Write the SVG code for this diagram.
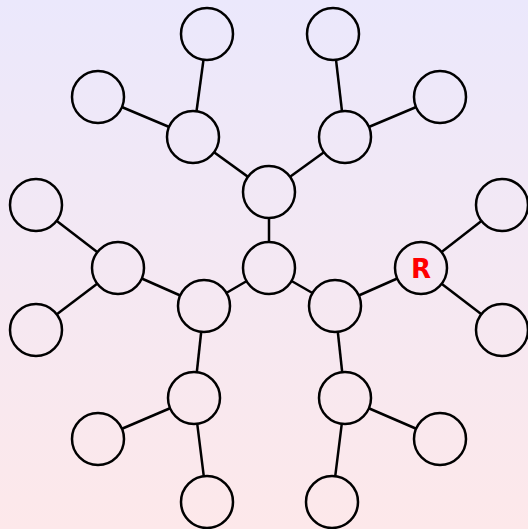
<svg xmlns="http://www.w3.org/2000/svg" width="528" height="529" viewBox="0 0 528 529">
<defs>
<linearGradient id="bg" gradientUnits="userSpaceOnUse" x1="0" y1="0" x2="0" y2="529">
<stop offset="0" stop-color="#ebe8fc"/>
<stop offset="1" stop-color="#fde8ea"/>
</linearGradient>
</defs>
<style>
.e{stroke:#000;stroke-width:2.5;fill:none}
.n{fill:url(#bg);stroke:#000;stroke-width:2.5}
.t{font-family:"DejaVu Sans",sans-serif;font-weight:bold;font-size:26px;fill:#ff0000;text-anchor:middle}
</style>
<rect width="528" height="529" fill="url(#bg)"/>
<g id="connectors">
<line class="e" x1="269" y1="268" x2="269" y2="192"/>
<line class="e" x1="269" y1="192" x2="193" y2="137"/>
<line class="e" x1="269" y1="192" x2="345" y2="137"/>
<line class="e" x1="193" y1="137" x2="207" y2="34"/>
<line class="e" x1="193" y1="137" x2="98" y2="97"/>
<line class="e" x1="345" y1="137" x2="333" y2="34"/>
<line class="e" x1="345" y1="137" x2="440" y2="97"/>
<line class="e" x1="269" y1="268" x2="204" y2="306"/>
<line class="e" x1="269" y1="268" x2="335" y2="306"/>
<line class="e" x1="204" y1="306" x2="118" y2="268"/>
<line class="e" x1="204" y1="306" x2="194" y2="398"/>
<line class="e" x1="118" y1="268" x2="36" y2="205"/>
<line class="e" x1="118" y1="268" x2="36" y2="330"/>
<line class="e" x1="194" y1="398" x2="98" y2="439"/>
<line class="e" x1="194" y1="398" x2="207" y2="502"/>
<line class="e" x1="335" y1="306" x2="421" y2="268"/>
<line class="e" x1="335" y1="306" x2="345" y2="398"/>
<line class="e" x1="421" y1="268" x2="502" y2="205"/>
<line class="e" x1="421" y1="268" x2="502" y2="330"/>
<line class="e" x1="345" y1="398" x2="440" y2="439"/>
<line class="e" x1="345" y1="398" x2="332" y2="502"/>
</g>
<g id="n1"><circle class="n" cx="269" cy="268" r="26"/></g>
<g id="n2"><circle class="n" cx="269" cy="192" r="26"/></g>
<g id="n3"><circle class="n" cx="193" cy="137" r="26"/></g>
<g id="n4"><circle class="n" cx="345" cy="137" r="26"/></g>
<g id="n5"><circle class="n" cx="207" cy="34" r="26"/></g>
<g id="n6"><circle class="n" cx="98" cy="97" r="26"/></g>
<g id="n7"><circle class="n" cx="333" cy="34" r="26"/></g>
<g id="n8"><circle class="n" cx="440" cy="97" r="26"/></g>
<g id="n9"><circle class="n" cx="204" cy="306" r="26"/></g>
<g id="n10"><circle class="n" cx="335" cy="306" r="26"/></g>
<g id="n11"><circle class="n" cx="118" cy="268" r="26"/></g>
<g id="n12"><circle class="n" cx="194" cy="398" r="26"/></g>
<g id="n13"><circle class="n" cx="36" cy="205" r="26"/></g>
<g id="n14"><circle class="n" cx="36" cy="330" r="26"/></g>
<g id="n15"><circle class="n" cx="98" cy="439" r="26"/></g>
<g id="n16"><circle class="n" cx="207" cy="502" r="26"/></g>
<g id="nR"><circle class="n" cx="421" cy="268" r="26"/><text class="t" x="421" y="278">R</text></g>
<g id="n18"><circle class="n" cx="345" cy="398" r="26"/></g>
<g id="n19"><circle class="n" cx="502" cy="205" r="26"/></g>
<g id="n20"><circle class="n" cx="502" cy="330" r="26"/></g>
<g id="n21"><circle class="n" cx="440" cy="439" r="26"/></g>
<g id="n22"><circle class="n" cx="332" cy="502" r="26"/></g>
</svg>
